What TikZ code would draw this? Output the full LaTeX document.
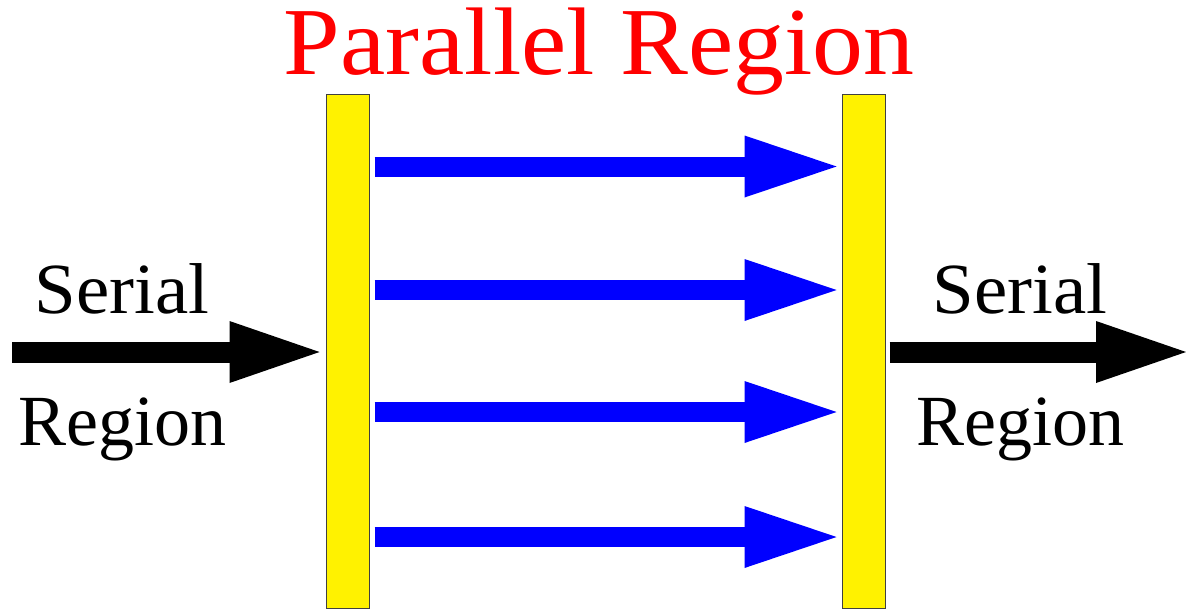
\documentclass[tikz,border=0pt]{standalone}
\usepackage{fontspec}
\setmainfont{Liberation Serif}
\usetikzlibrary{arrows.meta,positioning}

\begin{document}
\begin{tikzpicture}[
    x=0.5pt, y=-0.5pt,
    bar/.style={draw=black!75, line width=0.5pt, fill=yellow, inner sep=0pt,
                minimum width=21.5pt, minimum height=256.5pt},
    pararrow/.style={draw=blue, line width=10pt,
                     -{Triangle[length=46pt, width=31pt, line width=0pt]}, blue},
    serarrow/.style={draw=black, line width=10.5pt,
                     -{Triangle[length=45pt, width=31pt, line width=0pt]}},
    lbl/.style={font=\fontsize{36pt}{40pt}\selectfont, anchor=base, inner sep=0pt}
]
\useasboundingbox (0,0) rectangle (1186,610);

% ---- title ----
\node[lbl, text=red, font=\fontsize{48pt}{52pt}\selectfont] (title) at (599,75)
  {\scalebox{1.06}[1]{Parallel Region}};

% ---- the two barriers ----
\node[bar] (lbar) at (347.5,351.5) {};
\node[bar] (rbar) at (863.5,351.5) {};

% ---- parallel work between the barriers ----
\foreach \y [count=\i] in {166.5,290,412,537} {
  \coordinate (p\i) at (0,\y);
  \draw[pararrow, shorten <=2.5pt, shorten >=2.5pt] (lbar.east |- p\i) -- (rbar.west |- p\i);
}

% ---- serial part in and out ----
\coordinate (in) at (12,352);
\coordinate (out) at (1186,352);
\draw[serarrow, shorten >=3pt] (in) -- (in -| lbar.west);
\draw[serarrow, shorten <=2pt] (out -| rbar.east) -- (out);

\node[lbl] (serin) at (122,313) {\scalebox{1.04}[1]{Serial}};
\node[lbl] (regin) at (122,445) {Region};
\node[lbl] (serout) at (1020,313) {\scalebox{1.04}[1]{Serial}};
\node[lbl] (regout) at (1020,445) {Region};

\end{tikzpicture}
\end{document}
